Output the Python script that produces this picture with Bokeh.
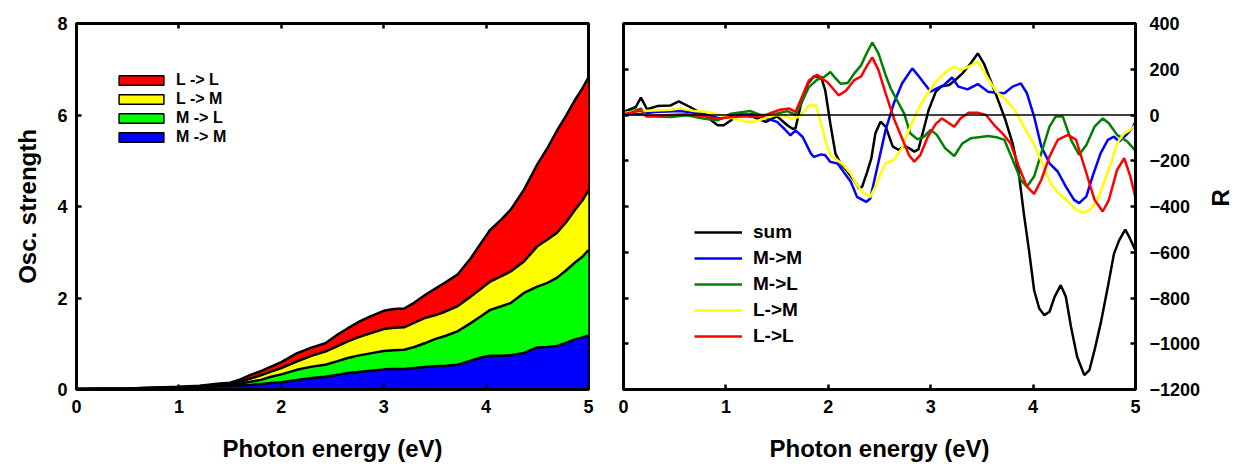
import math
from bokeh.plotting import figure
from bokeh.models import (FixedTicker, LinearAxis, Legend, LegendItem, Span,
                          CustomJSTickFormatter, ColumnDataSource)
from bokeh.layouts import row
from bokeh.embed import file_html
from bokeh.resources import INLINE
import numpy as np

# ---------------- data: left panel (stacked oscillator strength) -------------
E_stack = [0, 0.5, 1.0, 1.2, 1.4, 1.5, 1.6, 1.7, 1.8, 1.9, 2.0, 2.15, 2.3, 2.43,
           2.55, 2.65, 2.75, 2.87, 3.0, 3.1, 3.2, 3.3, 3.4, 3.5, 3.6, 3.72, 3.85,
           3.95, 4.04, 4.15, 4.24, 4.37, 4.5, 4.6, 4.69, 4.78, 4.86, 4.94, 5.0]
osc_mm = [0.01, 0.02, 0.04, 0.05, 0.07, 0.08, 0.09, 0.10, 0.12, 0.14, 0.16, 0.21,
          0.25, 0.28, 0.32, 0.36, 0.38, 0.41, 0.44, 0.45, 0.45, 0.47, 0.49, 0.51,
          0.52, 0.54, 0.63, 0.70, 0.74, 0.74, 0.75, 0.80, 0.92, 0.93, 0.95, 1.02,
          1.09, 1.14, 1.18]
osc_ml = [0.00, 0.00, 0.01, 0.01, 0.02, 0.02, 0.04, 0.07, 0.09, 0.14, 0.17, 0.22,
          0.25, 0.26, 0.30, 0.33, 0.36, 0.38, 0.40, 0.41, 0.42, 0.46, 0.52, 0.59,
          0.65, 0.73, 0.82, 0.90, 1.00, 1.08, 1.14, 1.31, 1.33, 1.40, 1.49, 1.58,
          1.67, 1.76, 1.87]
osc_lm = [0.00, 0.00, 0.00, 0.01, 0.02, 0.03, 0.04, 0.07, 0.10, 0.11, 0.14, 0.18,
          0.24, 0.29, 0.33, 0.36, 0.40, 0.44, 0.48, 0.49, 0.49, 0.53, 0.55, 0.52,
          0.53, 0.55, 0.58, 0.60, 0.62, 0.66, 0.69, 0.69, 0.88, 0.95, 0.98, 1.05,
          1.14, 1.23, 1.30]
osc_ll = [0.00, 0.00, 0.01, 0.01, 0.02, 0.02, 0.05, 0.08, 0.09, 0.11, 0.13, 0.18,
          0.18, 0.18, 0.25, 0.29, 0.33, 0.37, 0.40, 0.41, 0.41, 0.44, 0.50, 0.58,
          0.64, 0.69, 0.84, 1.00, 1.13, 1.24, 1.35, 1.57, 1.79, 2.00, 2.23, 2.33,
          2.40, 2.45, 2.47]

# ---------------- data: right panel (R) ----------------
e_sum = [0.0, 0.12, 0.17, 0.23, 0.33, 0.46, 0.54, 0.65, 0.79, 0.92, 0.98, 1.05,
         1.14, 1.27, 1.39, 1.50, 1.60, 1.65, 1.68, 1.73, 1.80, 1.86, 1.93, 1.97,
         2.02, 2.07, 2.12, 2.19, 2.25, 2.30, 2.33, 2.38, 2.42, 2.46, 2.51, 2.56,
         2.63, 2.69, 2.74, 2.79, 2.84, 2.88, 2.93, 2.98, 3.05, 3.11, 3.18, 3.24,
         3.31, 3.39, 3.46, 3.52, 3.59, 3.67, 3.73, 3.80, 3.86, 3.91, 3.96, 4.01,
         4.06, 4.11, 4.16, 4.21, 4.27, 4.32, 4.37, 4.43, 4.50, 4.55, 4.60, 4.66,
         4.73, 4.79, 4.84, 4.90, 4.94, 5.0]
r_sum = [13, 35, 76, 25, 39, 42, 60, 35, 0, -45, -45, -23, 3, -9, -30, -6, -45,
         -60, -58, 42, 137, 169, 166, 108, -38, -169, -212, -249, -285, -321, -314,
         -249, -190, -80, -29, -51, -138, -153, -135, -145, -160, -150, -65, 22,
         102, 126, 131, 153, 182, 225, 269, 225, 145, 51, -22, -124, -254, -432,
         -592, -766, -846, -875, -860, -795, -744, -795, -926, -1057, -1137, -1115,
         -1028, -911, -751, -606, -548, -501, -534, -592]

e_mm = [0.0, 0.17, 0.30, 0.56, 0.79, 0.95, 1.08, 1.27, 1.40, 1.50, 1.57, 1.63,
        1.68, 1.75, 1.83, 1.86, 1.93, 1.97, 2.02, 2.09, 2.15, 2.22, 2.28, 2.37,
        2.41, 2.48, 2.56, 2.64, 2.72, 2.82, 2.90, 3.0, 3.06, 3.13, 3.21, 3.27,
        3.36, 3.46, 3.56, 3.64, 3.72, 3.80, 3.88, 3.94, 4.01, 4.08, 4.16, 4.24,
        4.32, 4.40, 4.45, 4.52, 4.58, 4.66, 4.73, 4.79, 4.84, 4.91, 4.97, 5.0]
r_mm = [6, 3, 13, 17, 3, -16, 0, 3, -16, -30, -60, -89, -67, -96, -169, -183,
        -172, -176, -205, -212, -249, -292, -358, -380, -365, -225, -65, 51, 138,
        204, 160, 102, 116, 131, 164, 124, 112, 135, 102, 97, 95, 124, 138, 95,
        -7, -138, -211, -247, -313, -371, -385, -356, -269, -167, -109, -95, -116,
        -87, -58, -29]

e_ml = [0.0, 0.17, 0.23, 0.46, 0.62, 0.79, 0.92, 1.05, 1.24, 1.34, 1.44, 1.60,
        1.68, 1.75, 1.81, 1.89, 1.96, 2.02, 2.06, 2.12, 2.19, 2.25, 2.32, 2.38,
        2.43, 2.49, 2.56, 2.61, 2.67, 2.74, 2.80, 2.87, 2.93, 3.0, 3.06, 3.14,
        3.23, 3.31, 3.39, 3.47, 3.56, 3.64, 3.72, 3.80, 3.88, 3.94, 4.01, 4.08,
        4.16, 4.22, 4.29, 4.37, 4.45, 4.52, 4.60, 4.68, 4.74, 4.82, 4.92, 5.0]
r_ml = [6, 28, -6, -9, -1, -16, -23, 6, 17, 0, 0, 17, 0, 64, 122, 154, 166, 188,
        166, 137, 140, 180, 217, 275, 317, 269, 174, 116, 65, 7, -80, -106, -97,
        -65, -87, -145, -179, -124, -102, -97, -92, -97, -109, -196, -284, -313,
        -269, -167, -51, -7, -7, -109, -174, -131, -51, -15, -36, -87, -116, -157]

e_lm = [0.0, 0.17, 0.30, 0.46, 0.56, 0.69, 0.82, 0.92, 1.05, 1.18, 1.27, 1.37,
        1.47, 1.57, 1.63, 1.71, 1.76, 1.81, 1.88, 1.93, 1.97, 2.02, 2.09, 2.15,
        2.22, 2.28, 2.35, 2.41, 2.46, 2.51, 2.56, 2.64, 2.72, 2.80, 2.89, 2.97,
        3.05, 3.13, 3.23, 3.29, 3.37, 3.46, 3.54, 3.64, 3.72, 3.82, 3.91, 4.01,
        4.09, 4.17, 4.25, 4.34, 4.42, 4.48, 4.55, 4.63, 4.69, 4.76, 4.82, 4.89,
        4.95, 5.0]
r_lm = [9, 17, 20, 23, 28, 17, 13, 3, -12, -28, -30, -16, -1, -1, -16, -9, 13, 42,
        42, -38, -110, -176, -198, -220, -256, -307, -343, -358, -314, -256, -211,
        -196, -145, -51, 36, 95, 145, 182, 211, 196, 211, 233, 174, 102, 73, 22,
        -51, -131, -211, -298, -342, -378, -415, -426, -417, -371, -298, -211,
        -124, -80, -65, -44]

e_ll = [0.0, 0.17, 0.22, 0.46, 0.62, 0.79, 0.92, 1.05, 1.21, 1.34, 1.44, 1.53,
        1.62, 1.68, 1.75, 1.81, 1.89, 1.94, 1.99, 2.06, 2.10, 2.17, 2.25, 2.32,
        2.38, 2.43, 2.49, 2.56, 2.64, 2.72, 2.79, 2.84, 2.90, 2.97, 3.05, 3.11,
        3.18, 3.23, 3.29, 3.37, 3.46, 3.54, 3.62, 3.70, 3.78, 3.86, 3.94, 4.01,
        4.08, 4.16, 4.24, 4.34, 4.42, 4.50, 4.60, 4.68, 4.74, 4.82, 4.89, 4.95, 5.0]
r_ll = [3, 20, -6, 0, 3, -6, -16, -9, -6, -9, 9, 23, 28, 13, 86, 151, 176, 158,
        144, 108, 86, 105, 151, 169, 217, 252, 196, 95, -15, -102, -177, -204,
        -174, -97, -39, -15, -36, -51, -15, 10, 10, 0, -44, -80, -124, -225, -313,
        -345, -284, -182, -109, -87, -109, -225, -371, -422, -371, -240, -189,
        -269, -364]

x_ticks = [0, 1, 2, 3, 4, 5]
osc_ticks = [0, 2, 4, 6, 8]
r_ticks = [-1200, -1000, -800, -600, -400, -200, 0, 200, 400]

FONT = "Liberation Sans"
EMPTY = CustomJSTickFormatter(code="return ''")


def style_axis(ax, ticks):
    ax.ticker = FixedTicker(ticks=ticks)
    ax.axis_line_width = 3
    ax.axis_line_color = "black"
    ax.major_tick_in = 5
    ax.major_tick_out = 0
    ax.major_tick_line_width = 2.5
    ax.major_tick_line_color = "black"
    ax.minor_tick_line_color = None
    ax.major_label_text_font = FONT
    ax.major_label_text_font_style = "bold"
    ax.major_label_text_font_size = "18px"
    ax.major_label_text_color = "black"
    ax.axis_label_text_font = FONT
    ax.axis_label_text_font_style = "bold"
    ax.axis_label_text_font_size = "24px"
    ax.axis_label_text_color = "black"


def blank_axis(ticks):
    ax = LinearAxis(formatter=EMPTY)
    style_axis(ax, ticks)
    ax.major_label_standoff = 0
    ax.major_label_text_font_size = "1px"
    return ax


def base_fig(yr, **kw):
    p = figure(frame_width=512, frame_height=366, x_range=(0, 5), y_range=yr,
               output_backend="svg", toolbar_location=None,
               min_border_top=23, min_border_bottom=79, **kw)
    p.xgrid.visible = False
    p.ygrid.visible = False
    p.outline_line_color = "black"
    p.outline_line_width = 3
    p.outline_line_alpha = 1
    p.background_fill_color = "white"
    p.border_fill_color = "white"
    return p


# ---------------- left panel ----------------
p1 = base_fig((0, 8), min_border_left=76, min_border_right=17,
              x_axis_label="Photon energy (eV)", y_axis_label="Osc. strength")
style_axis(p1.xaxis[0], x_ticks)
style_axis(p1.yaxis[0], osc_ticks)
p1.xaxis[0].major_label_standoff = 10
p1.xaxis[0].axis_label_standoff = 19
p1.yaxis[0].major_label_standoff = 9
p1.yaxis[0].axis_label_standoff = 13
p1.add_layout(blank_axis(x_ticks), "above")

c1 = np.array(osc_mm)
c2 = c1 + np.array(osc_ml)
c3 = c2 + np.array(osc_lm)
c4 = c3 + np.array(osc_ll)
zero = np.zeros_like(c1)
src = ColumnDataSource(dict(x=E_stack, z=zero, c1=c1, c2=c2, c3=c3, c4=c4))
layers = [("z", "c1", "#0000ff"), ("c1", "c2", "#00ff00"),
          ("c2", "c3", "#ffff00"), ("c3", "c4", "#ff0000")]
for lo, hi, col in layers:
    p1.varea(x="x", y1=lo, y2=hi, source=src, fill_color=col, fill_alpha=1)
for hi in ["c1", "c2", "c3", "c4"]:
    p1.line(x="x", y=hi, source=src, line_color="black", line_width=2.5)

# legend swatches (no visible data, only used for the legend)
leg_items = []
for name, col in [("L -> L", "#ff0000"), ("L -> M", "#ffff00"),
                  ("M -> L", "#00ff00"), ("M -> M", "#0000ff")]:
    r = p1.quad(left=[np.nan], right=[np.nan], top=[np.nan], bottom=[np.nan],
                fill_color=col, line_color="black", line_width=1.5)
    leg_items.append(LegendItem(label=name, renderers=[r]))
leg1 = Legend(items=leg_items, location=(37, 243), padding=0, margin=0,
              spacing=1, glyph_width=56, glyph_height=12, label_height=17,
              label_standoff=7, border_line_color=None, background_fill_alpha=0,
              label_text_font=FONT, label_text_font_style="bold",
              label_text_font_size="16px", label_text_color="black")
p1.add_layout(leg1)

# ---------------- right panel ----------------
p2 = base_fig((-1200, 400), min_border_left=18, min_border_right=104,
              y_axis_location="right",
              x_axis_label="Photon energy (eV)", y_axis_label="R")
style_axis(p2.xaxis[0], x_ticks)
style_axis(p2.yaxis[0], r_ticks)
p2.xaxis[0].major_label_standoff = 10
p2.xaxis[0].axis_label_standoff = 19
p2.yaxis[0].major_label_standoff = 14
p2.yaxis[0].axis_label_standoff = 17
if "axis_label_orientation" in p2.yaxis[0].properties():
    p2.yaxis[0].axis_label_orientation = math.pi / 2
p2.add_layout(blank_axis(x_ticks), "above")
p2.add_layout(blank_axis(r_ticks), "left")

p2.add_layout(Span(location=0, dimension="width", line_color="black",
                   line_width=1.5))

series = [("sum", e_sum, r_sum, "black"), ("M->M", e_mm, r_mm, "#0000ff"),
          ("M->L", e_ml, r_ml, "#008000"), ("L->M", e_lm, r_lm, "#ffff00"),
          ("L->L", e_ll, r_ll, "#ff0000")]
items2 = []
for name, ex, ry, col in series:
    r = p2.line(ex, ry, line_color=col, line_width=2.5)
    items2.append(LegendItem(label=name, renderers=[r]))
leg2 = Legend(items=items2, location=(71, 42), padding=0, margin=0, spacing=4,
              glyph_width=48, glyph_height=20, label_height=20,
              label_standoff=11, border_line_color=None, background_fill_alpha=0,
              label_text_font=FONT, label_text_font_style="bold",
              label_text_font_size="19px", label_text_color="black")
p2.add_layout(leg2)

layout = row(p1, p2)
open("out.html", "w").write(file_html(layout, INLINE))
